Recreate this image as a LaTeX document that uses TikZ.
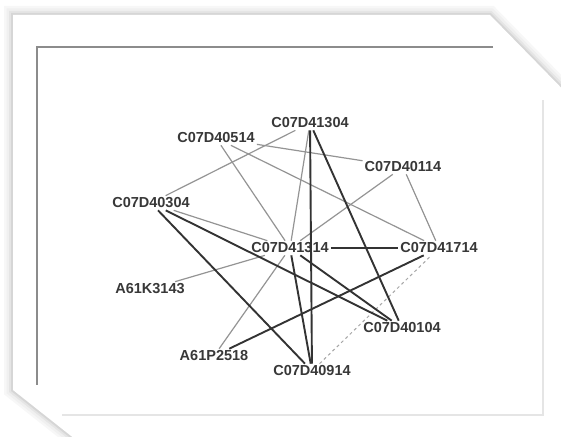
\documentclass[tikz,border=0pt]{standalone}
\usepackage{fontspec}
\setmainfont{Liberation Sans}
\usepackage{tikz}
\tikzset{code/.style={inner sep=2pt, text=black!78, font=\fontsize{14.5}{14.5}\selectfont\bfseries}}
\tikzset{linkweak/.style={draw=black!42, line width=1.2pt}}
\tikzset{linkstrong/.style={draw=black!80, line width=1.9pt}}
\tikzset{linkdash/.style={draw=black!35, line width=1pt, dashed}}

\begin{document}
\begin{tikzpicture}[x=1pt,y=-1pt]
		\useasboundingbox (0,0) rectangle (561,436);
		
		% paper sheet with its shadow
		\foreach \w/\c in {18/3,13/6,8/10,4/16}
			\draw[line width=\w pt, black!\c, line join=miter]
				(13,15) -- (490,15) -- (582,109) -- (582,462) -- (104,462) -- (13,390) -- cycle;
		\fill[white] (13,15) -- (490,15) -- (582,109) -- (582,462) -- (104,462) -- (13,390) -- cycle;
		\draw[black!45, line width=2.2pt] (493,47) -- (37,47) -- (37,385);
		\draw[black!10, line width=2pt] (543,100) -- (543,415) -- (62,415);
		
		\node[code] (a) at (310,123) {C07D41304};
		\node[code] (b) at (216,138) {C07D40514};
		\node[code] (c) at (403,167) {C07D40114};
		\node[code] (d) at (151,203) {C07D40304};
		\node[code] (m) at (290,248) {C07D41314};
		\node[code] (e) at (439,248) {C07D41714};
		\node[code] (k) at (150,289) {A61K3143};
		\node[code] (f) at (402,328) {C07D40104};
		\node[code] (p) at (214,356) {A61P2518};
		\node[code] (g) at (312,371) {C07D40914};
		
		\path[linkweak]
			(d) edge (a) (b) edge (c) (b) edge (m) (b) edge (e)
			(a) edge (m) (c) edge (m) (c) edge (e) (d) edge (m)
			(k) edge (m) (p) edge (m);
		\draw[linkdash] (g) -- (e);
		
		\path[linkstrong]
			(a) edge (g) (a) edge (f) (d) edge (g) (d) edge (f)
			(m) edge (e) (m) edge (f) (m) edge (g) (p) edge (e);
		
		\end{tikzpicture}
\end{document}
